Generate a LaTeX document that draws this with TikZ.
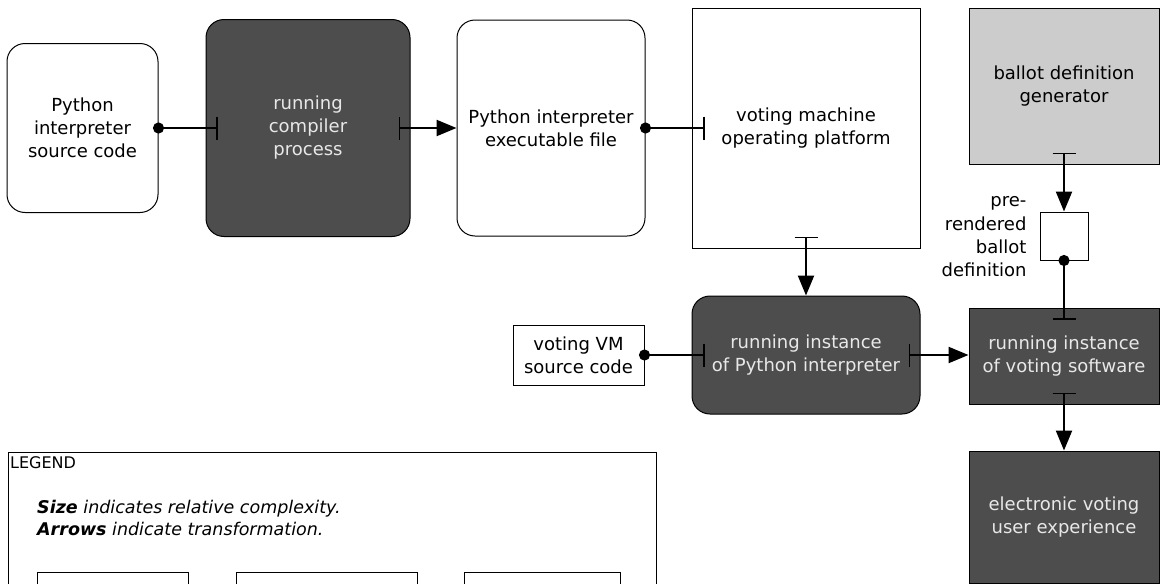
\documentclass[tikz,border=0pt]{standalone}
\usepackage{fontspec}
\setmainfont{DejaVu Sans}
\definecolor{vmdark}{RGB}{77,77,77}
\definecolor{vmlight}{RGB}{204,204,204}
\definecolor{vmtext}{RGB}{232,232,232}
\usetikzlibrary{arrows.meta,positioning}

\begin{document}
\begin{tikzpicture}[
  x=1pt, y=-1pt,
  box/.style={
    rectangle, draw=black, line width=1pt,
    fill=white, inner sep=0pt,
    align=center, text=black,
    font=\fontsize{18}{23}\selectfont
  },
  soft/.style={box, rounded corners=18pt},
  dark/.style={fill=vmdark, text=vmtext},
  feed/.style={{Circle[length=11pt]}-{Bar[width=23pt,line width=1.2pt]},
    line width=2.3pt, shorten <=-5.5pt},
  conv/.style={{Bar[width=23pt,line width=1.2pt]}-{Triangle[length=20pt,width=16pt]},
    line width=2.3pt}
]
\useasboundingbox (0,0) rectangle (1160,584);
\clip (0,0) rectangle (1160,584);

% Build chain
\node[soft, minimum width=151pt, minimum height=169pt] (pysrc) at (82.5,128) {Python\\interpreter\\source code};
\node[soft, dark, minimum width=204pt, minimum height=217pt] (compiler) at (308,128) {running\\compiler\\process};
\node[soft, minimum width=188pt, minimum height=216pt] (pyexe) at (551,128) {Python interpreter\\executable file};
\node[box, minimum width=228pt, minimum height=240pt] (platform) at (806,128) {voting machine\\operating platform};

% Ballot column
\node[box, fill=vmlight, minimum width=190pt, minimum height=156pt] (generator) at (1064,86) {ballot definition\\generator};
\node[box, minimum width=48pt, minimum height=48pt] (ballot) at (1064,236) {};
\node[anchor=east, align=right, font=\fontsize{18}{23.3}\selectfont] (ballotlbl) at (1030,237) {pre-\\rendered\\ballot\\definition};

% Runtime
\node[soft, dark, minimum width=228pt, minimum height=118pt] (pyinst) at (806,355) {running instance\\of Python interpreter};
\node[box, minimum width=131pt, minimum height=60pt] (vmsrc) at (578.5,355) {voting VM\\source code};
\node[box, dark, minimum width=190pt, minimum height=96pt] (swinst) at (1064,356) {running instance\\of voting software};
\node[box, dark, minimum width=190pt, minimum height=132pt] (ux) at (1064,517) {electronic voting\\user experience};

\draw[feed] (pysrc.east) -- ([xshift=12pt]compiler.west);
\draw[conv] ([xshift=-12pt]compiler.east) -- (pyexe.west);
\draw[feed] (pyexe.east) -- ([xshift=13pt]platform.west);
\draw[conv] ([yshift=12pt]platform.south) -- (pyinst.north);
\draw[conv] ([yshift=12pt]generator.south) -- (ballot.north);
\draw[feed] (ballot.south) -- ([yshift=-12pt]swinst.north);
\draw[feed] (vmsrc.east) -- ([xshift=13pt]pyinst.west);
\draw[conv] ([xshift=-12pt]pyinst.east) -- (pyinst.east -| swinst.west);
\draw[conv] ([yshift=12pt]swinst.south) -- (ux.north);

% Legend
\node[box, anchor=north west, minimum width=648pt, minimum height=160pt] (legend) at (8,452) {};
\node[anchor=west, inner sep=0pt, font=\fontsize{16}{19}\selectfont] (legtitle) at (10,463) {LEGEND};
\node[anchor=west, align=left, inner sep=0pt, font=\fontsize{17.5}{22}\selectfont\itshape] (legnote) at (37,518)
  {\textbf{Size} indicates relative complexity.\\\textbf{Arrows} indicate transformation.};
\node[box, anchor=north west, minimum width=151pt, minimum height=40pt] (keyfile) at (37,572) {};
\node[box, anchor=north west, minimum width=181pt, minimum height=40pt] (keyproc) at (236,572) {};
\node[box, anchor=north west, minimum width=156pt, minimum height=40pt] (keyplat) at (464,572) {};
\end{tikzpicture}
\end{document}
